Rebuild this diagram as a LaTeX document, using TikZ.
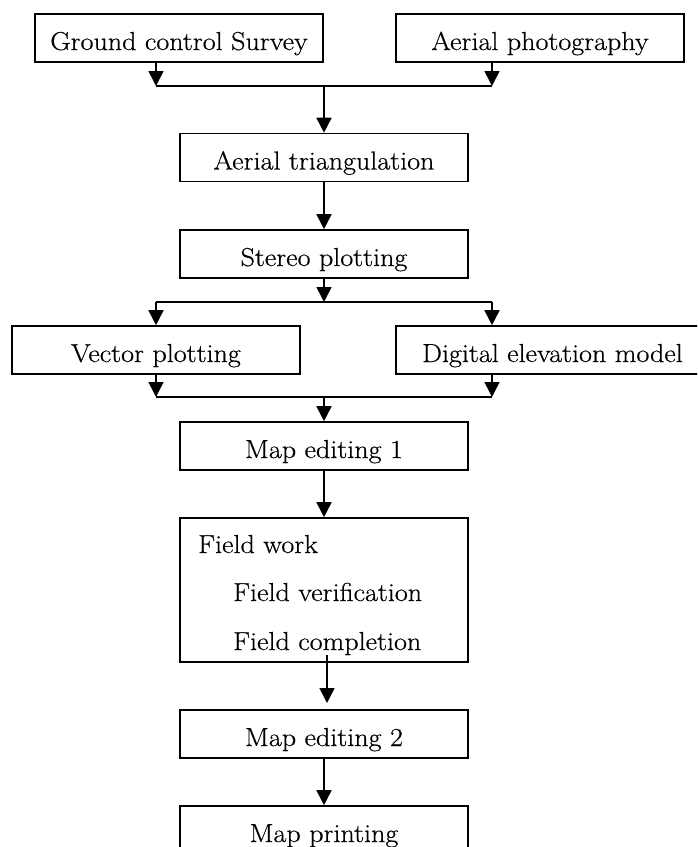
\documentclass[tikz,border=0pt]{standalone}
\usepackage{fontspec}
\setmainfont{Latin Modern Roman}[FakeStretch=1.08,FakeBold=0.5]
\usetikzlibrary{arrows.meta}
\begin{document}
\begin{tikzpicture}[x=1pt,y=-1pt,
  stagebox/.style={draw,line width=1.6pt,rectangle,inner sep=0pt,
    minimum width=288pt,minimum height=48pt,
    font=\fontsize{26}{30}\selectfont,text height=30pt,text depth=6pt},
  plainlabel/.style={inner sep=0pt,anchor=base west,font=\fontsize{26}{30}\selectfont},
  link/.style={line width=1.6pt},
  arr/.style={link,-{Triangle[width=15pt,length=15pt]}}]
\useasboundingbox (0,0) rectangle (697,847);
\clip (0,0) rectangle (697,847);
\fill[white] (0,0) rectangle (697,847);

% stages
\node[stagebox] (gcs)  at (179,38)  {Ground control Survey};
\node[stagebox] (aph)  at (540,38)  {Aerial photography};
\node[stagebox] (atri) at (324,157.5) {Aerial triangulation};
\node[stagebox] (ster) at (324,254) {Stereo plotting};
\node[stagebox] (vec)  at (156,350) {Vector plotting};
\node[stagebox,minimum width=313pt] (dem) at (552.5,350) {Digital elevation model};
\node[stagebox] (me1)  at (324,446) {Map editing 1};
\node[stagebox,minimum height=144pt] (field) at (324,590) {};
\node[plainlabel] (fw) at (198,553) {Field work};
\node[plainlabel] (fv) at (233,601) {Field verification};
\node[plainlabel] (fc) at (233,650) {Field completion};
\node[stagebox] (me2)  at (324,734) {Map editing 2};
\node[stagebox] (mp)   at (324,830) {Map printing};

% junction points
\coordinate (jaL) at (156,86);
\coordinate (jaR) at (492,86);
\coordinate (ja)  at (324,86);
\coordinate (jbL) at (156,302);
\coordinate (jbR) at (492,302);
\coordinate (jb)  at (324,302);
\coordinate (jcL) at (156,397);
\coordinate (jcR) at (492,397);
\coordinate (jc)  at (324,397);
\coordinate (fs)  at (327,655);
\coordinate (fe)  at (327,703);

% merge of the two survey inputs
\draw[arr] (gcs.south -| jaL) -- (jaL);
\draw[arr] (aph.south -| jaR) -- (jaR);
\draw[link] (jaL) -- (jaR);
\draw[arr] (ja) -- (atri.north);
\draw[arr] (atri) -- (ster);

% split into vector plotting and DEM
\draw[arr] (ster) -- (jb);
\draw[link] (jbL) -- (jbR);
\draw[arr] (jbL) -- (vec.north -| jbL);
\draw[arr] (jbR) -- (dem.north -| jbR);

% merge back into map editing
\draw[arr] (vec.south -| jcL) -- (jcL);
\draw[arr] (dem.south -| jcR) -- (jcR);
\draw[link] (jcL) -- (jcR);
\draw[arr] (jc) -- (me1.north);

\draw[arr] (me1) -- (field);
\draw[arr] (fs) -- (fe);
\draw[arr] (me2) -- (mp);
\end{tikzpicture}
\end{document}
